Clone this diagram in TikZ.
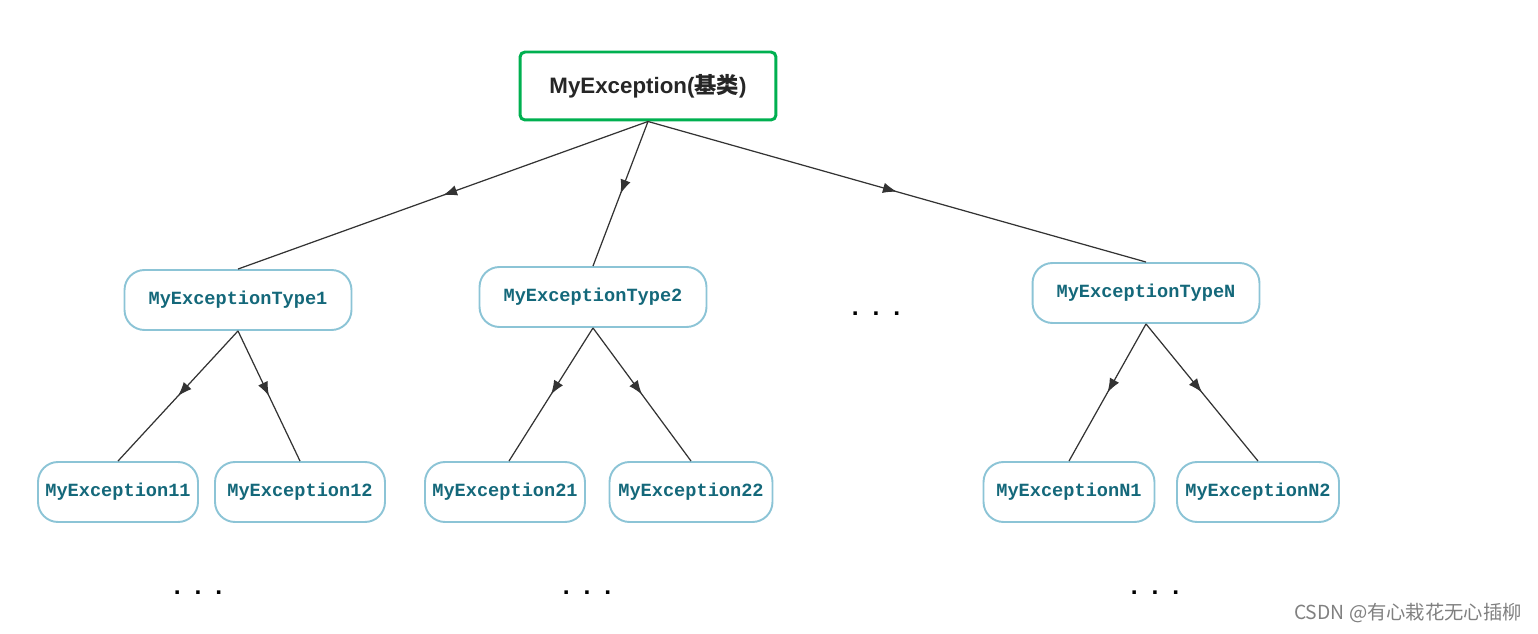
\documentclass[tikz,border=0pt]{standalone}
\usepackage{fontspec}
\setmainfont{Liberation Sans}
\setmonofont{Liberation Mono}
\newfontfamily\cjk{Noto Sans CJK SC}
\usetikzlibrary{arrows.meta,decorations.markings}
\definecolor{basegreen}{RGB}{0,176,80}
\definecolor{boxblue}{RGB}{140,196,214}
\definecolor{typeteal}{RGB}{20,104,122}
\definecolor{edgegray}{RGB}{51,51,51}
\newcommand{\tridots}{.\hspace{0.28cm}.\hspace{0.28cm}.}
\begin{document}
\begin{tikzpicture}[x=0.02cm, y=-0.02cm,
    basebox/.style={draw=basegreen, line width=1.7pt, rounded corners=0.1cm,
        minimum width=5.12cm, minimum height=1.36cm, font=\fontsize{12.7}{14}\selectfont\bfseries, text=black!85},
    typebox/.style={draw=boxblue, line width=1.1pt, rounded corners=0.4cm,
        minimum height=1.2cm, font=\ttfamily\bfseries\fontsize{10.6}{12}\selectfont, text=typeteal},
    dots/.style={font=\bfseries\fontsize{14}{14}\selectfont},
    midarrow/.style={draw=edgegray, line width=0.7pt, postaction={decorate},
        decoration={markings, mark=at position 0.5 with {\arrow{Latex[length=8pt,width=6pt]}}}}]
    \useasboundingbox (0,0) rectangle (1538,634);
    \node[basebox] (base) at (648,86) {MyException({\cjk 基类})};
    \node[typebox, minimum width=4.54cm] (t1) at (238,300) {MyExceptionType1};
    \node[typebox, minimum width=4.54cm] (t2) at (593,297) {MyExceptionType2};
    \node[dots] (tdots) at (876,314) {\tridots};
    \node[typebox, minimum width=4.54cm] (tn) at (1146,293) {MyExceptionTypeN};

    \node[typebox, minimum width=3.2cm] (e11) at (118,492) {MyException11};
    \node[typebox, minimum width=3.4cm] (e12) at (300,492) {MyException12};
    \node[typebox, minimum width=3.2cm] (e21) at (505,492) {MyException21};
    \node[typebox, minimum width=3.26cm] (e22) at (691,492) {MyException22};
    \node[typebox, minimum width=3.42cm] (en1) at (1069,492) {MyExceptionN1};
    \node[typebox, minimum width=3.24cm] (en2) at (1258,492) {MyExceptionN2};

    \node[dots] (d1) at (198,593) {\tridots};
    \node[dots] (d2) at (587,593) {\tridots};
    \node[dots] (dn) at (1155,593) {\tridots};

    \draw[midarrow] (base.south) -- (t1.north);
    \draw[midarrow] (base.south) -- (t2.north);
    \draw[midarrow] (base.south) -- (tn.north);
    \draw[midarrow] (t1.south) -- (e11.north);
    \draw[midarrow] (t1.south) -- (e12.north);
    \draw[midarrow] (t2.south) -- ([xshift=0.08cm]e21.north);
    \draw[midarrow] (t2.south) -- (e22.north);
    \draw[midarrow] (tn.south) -- (en1.north);
    \draw[midarrow] (tn.south) -- (en2.north);

    \node[text=black!50, font=\cjk\fontsize{11}{12}\selectfont] (csdn) at (1408,613) {CSDN @有心栽花无心插柳};
\end{tikzpicture}
\end{document}
